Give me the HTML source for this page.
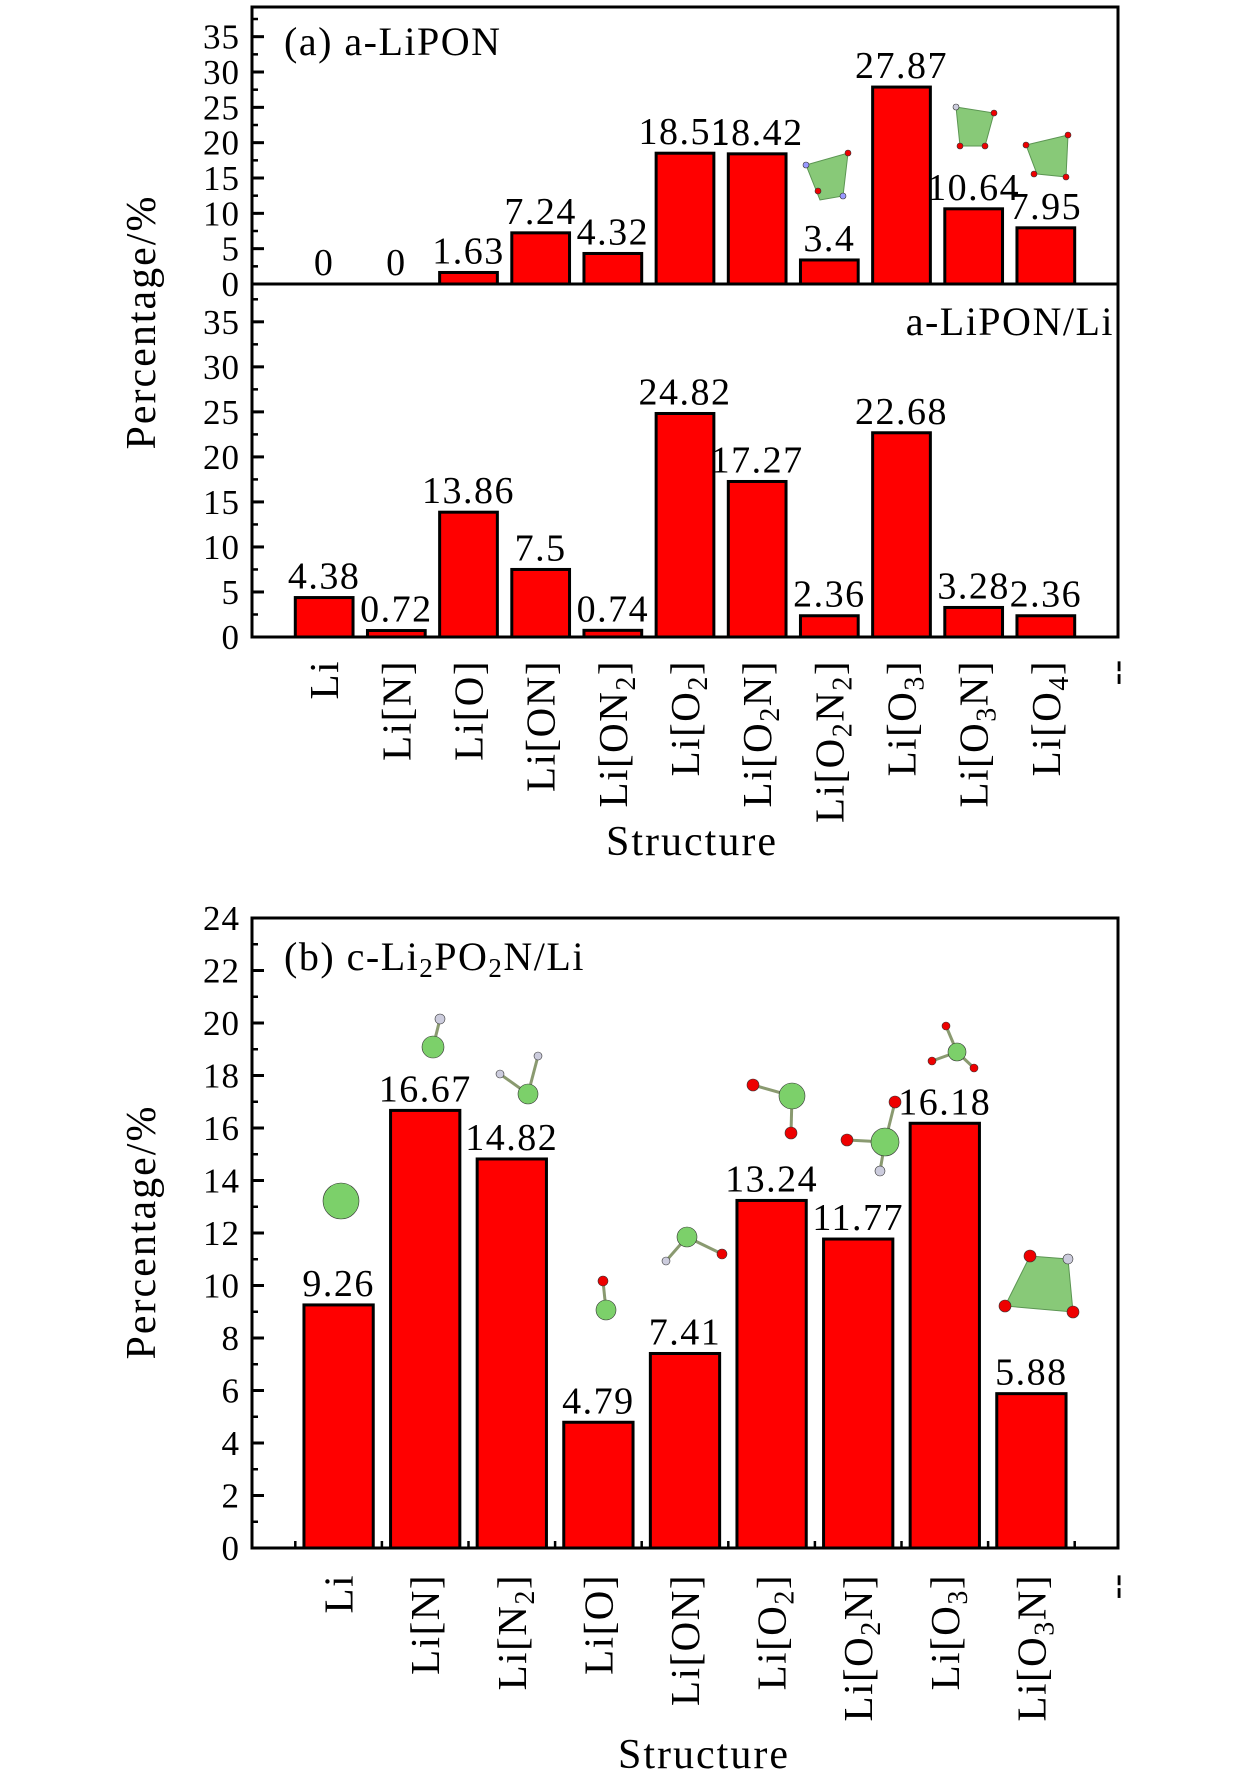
<!DOCTYPE html>
<html><head><meta charset="utf-8">
<style>
html,body{margin:0;padding:0;background:#fff;}
svg{display:block;font-family:"Liberation Serif","DejaVu Serif",serif;}
</style></head>
<body>
<svg id="fig" width="1260" height="1780" viewBox="0 0 1260 1780" xmlns="http://www.w3.org/2000/svg">
<g id="insets"></g>
</svg>
<script>
// ---- data ----
const catsA = [["Li"],["Li[N]"],["Li[O]"],["Li[ON]"],["Li[ON","2","]"],["Li[O","2","]"],["Li[O","2","N]"],["Li[O","2","N","2","]"],["Li[O","3","]"],["Li[O","3","N]"],["Li[O","4","]"]];
const valsA1 = [0,0,1.63,7.24,4.32,18.51,18.42,3.4,27.87,10.64,7.95];
const labsA1 = ["0","0","1.63","7.24","4.32","18.51","18.42","3.4","27.87","10.64","7.95"];
const valsA2 = [4.38,0.72,13.86,7.5,0.74,24.82,17.27,2.36,22.68,3.28,2.36];
const labsA2 = ["4.38","0.72","13.86","7.5","0.74","24.82","17.27","2.36","22.68","3.28","2.36"];
const ticksA = [0,5,10,15,20,25,30,35];
const catsB = [["Li"],["Li[N]"],["Li[N","2","]"],["Li[O]"],["Li[ON]"],["Li[O","2","]"],["Li[O","2","N]"],["Li[O","3","]"],["Li[O","3","N]"]];
const valsB = [9.26,16.67,14.82,4.79,7.41,13.24,11.77,16.18,5.88];
const labsB = ["9.26","16.67","14.82","4.79","7.41","13.24","11.77","16.18","5.88"];
const ticksB = [0,2,4,6,8,10,12,14,16,18,20,22,24];

const NS="http://www.w3.org/2000/svg";
const svg=document.getElementById('fig');
function mk(tag,attrs,parent){const e=document.createElementNS(NS,tag);for(const k in attrs)e.setAttribute(k,attrs[k]);(parent||svg).appendChild(e);return e;}

const L=252,R=1118;
function panel(top,bottom,ymax,vals,labs,ticks,minorStep,name,nslots,drawMinorX){
  const g=mk('g',{});
  
  
  const y=v=>bottom-(v/ymax)*(bottom-top);
  const pitch=(R-L)/nslots;
  const x=i=>L+pitch*(i+1);
  for(let v=0;v<=ymax+1e-9;v+=minorStep){
    const t=mk('line',{x1:L,x2:L+6,y1:y(v),y2:y(v),stroke:'#000','stroke-width':2.5},g);
    
    
  }
  ticks.forEach(v=>{
    const t=mk('line',{x1:L,x2:L+12,y1:y(v),y2:y(v),stroke:'#000','stroke-width':3},g);
    
    
    const tx=mk('text',{x:L-12,y:y(v)+12,'text-anchor':'end','font-size':35,'letter-spacing':1},g);
    tx.textContent=v;
    
    
  });
  if(drawMinorX){
    for(let i=0;i<nslots;i++){
      const t=mk('line',{x1:x(i),x2:x(i),y1:bottom,y2:bottom-12,stroke:'#000','stroke-width':3},g);
      
      
      const m=mk('line',{x1:x(i)-pitch/2,x2:x(i)-pitch/2,y1:bottom,y2:bottom-7,stroke:'#000','stroke-width':2.5},g);
      
      
    }
  }
  vals.forEach((v,i)=>{
    const bw=pitch*0.8;
    if(v>0){
      const b=mk('rect',{x:x(i)-bw/2,y:y(v),width:bw,height:bottom-y(v),fill:'#ff0000',stroke:'#000','stroke-width':3},g);
      
      
    }
    const t=mk('text',{x:x(i),y:y(v)-9,'text-anchor':'middle','font-size':38,'letter-spacing':1.5},g);
    t.textContent=labs[i];
    
    
  });
  return {x,y,pitch};
}
function catLabels(cats,xf,ytop,name){
  cats.forEach((c,i)=>{
    const cx=xf(i)+14;
    const t=mk('text',{transform:`translate(${cx},${ytop}) rotate(-90)`,'text-anchor':'end','font-size':41,'letter-spacing':1.5});
    
    
    c.forEach((s,k)=>{
      const sp=mk('tspan',{},t);
      if(k%2===1){sp.setAttribute('font-size','28');sp.setAttribute('dy','8');}
      else if(k>0){sp.setAttribute('dy','-8');}
      sp.textContent=s;
    });
  });
  const d=mk('text',{transform:`translate(${R+10},${ytop}) rotate(-90)`,'text-anchor':'end','font-size':38});
  d.textContent='--';
  
  
}

// Panel (a)
const top1=7,div1=284,bot1=637;
const pA1=panel(top1,div1,39.2,valsA1,labsA1,ticksA,2.5,'panel-a-lipon',12,false);
const pA2=panel(div1,bot1,39.2,valsA2,labsA2,ticksA,2.5,'panel-a-lipon-li',12,false);
let fr=mk('rect',{x:L,y:top1,width:R-L,height:bot1-top1,fill:'none',stroke:'#000','stroke-width':3});


let dl=mk('line',{x1:L,x2:R,y1:div1,y2:div1,stroke:'#000','stroke-width':3});


catLabels(catsA,pA2.x,660,'x-category-label');
let t=mk('text',{x:284,y:55,'font-size':40,'letter-spacing':1.5});t.textContent='(a) a-LiPON';

t=mk('text',{x:1114,y:335,'font-size':40,'text-anchor':'end','letter-spacing':1.5});t.textContent='a-LiPON/Li';

t=mk('text',{transform:'translate(155,322) rotate(-90)','text-anchor':'middle','font-size':42,'letter-spacing':2});t.textContent='Percentage/%';

t=mk('text',{x:692,y:855,'text-anchor':'middle','font-size':42,'letter-spacing':2});t.textContent='Structure';


// Panel (b)
const top2=918,bot2=1548;
const pB=panel(top2,bot2,24,valsB,labsB,ticksB,1,'panel-b',10,true);
fr=mk('rect',{x:L,y:top2,width:R-L,height:bot2-top2,fill:'none',stroke:'#000','stroke-width':3});


catLabels(catsB,pB.x,1574,'x-category-label');
t=mk('text',{x:284,y:970,'font-size':40,'letter-spacing':1.5});

t.innerHTML='(b) c-Li<tspan font-size="27" dy="7">2</tspan><tspan dy="-7">PO</tspan><tspan font-size="27" dy="7">2</tspan><tspan dy="-7">N/Li</tspan>';
t=mk('text',{transform:'translate(155,1232) rotate(-90)','text-anchor':'middle','font-size':42,'letter-spacing':2});t.textContent='Percentage/%';

t=mk('text',{x:704,y:1768,'text-anchor':'middle','font-size':42,'letter-spacing':2});t.textContent='Structure';


// insets (decorative molecules)
const ins=document.getElementById('insets');
svg.appendChild(ins);
function bond(x1,y1,x2,y2){mk('line',{x1,y1,x2,y2,stroke:'#8a9a70','stroke-width':3},ins);}
function ball(cx,cy,r,c){mk('circle',{cx,cy,r,fill:c,stroke:'#333','stroke-width':0.6},ins);}
function poly(pts){mk('polygon',{points:pts,fill:'#7cc46a',stroke:'#4a8a40','stroke-width':1,opacity:0.9},ins);}
poly('806,165 848,153 843,196 820,200');ball(806,165,3,'#99f');ball(848,153,3,'#e00');ball(818,191,3,'#e00');ball(843,196,3,'#99f');
poly('956,107 994,113 985,146 960,146');ball(956,107,3,'#ccd');ball(994,113,3,'#e00');ball(960,146,3,'#e00');ball(985,146,3,'#e00');
poly('1026,145 1068,135 1066,177 1037,174');ball(1026,145,3,'#e00');ball(1068,135,3,'#e00');ball(1034,174,3,'#e00');ball(1066,177,3,'#e00');
ball(341,1201,18,'#7cd06a');
bond(433,1047,440,1019);ball(433,1047,11,'#7cd06a');ball(440,1019,5,'#ccd');
bond(528,1094,500,1074);bond(528,1094,538,1056);ball(528,1094,10,'#7cd06a');ball(500,1074,4,'#ccd');ball(538,1056,4,'#ccd');
bond(606,1310,603,1281);ball(606,1310,10,'#7cd06a');ball(603,1281,5,'#e00');
bond(687,1237,666,1261);bond(687,1237,722,1254);ball(687,1237,10,'#7cd06a');ball(666,1261,4,'#ccd');ball(722,1254,5,'#e00');
bond(792,1096,753,1085);bond(792,1096,791,1133);ball(792,1096,13,'#7cd06a');ball(753,1085,6,'#e00');ball(791,1133,6,'#e00');
bond(885,1142,847,1140);bond(885,1142,895,1102);bond(885,1142,880,1171);ball(885,1142,14,'#7cd06a');ball(847,1140,6,'#e00');ball(895,1102,6,'#e00');ball(880,1171,5,'#ccd');
bond(957,1052,946,1026);bond(957,1052,932,1061);bond(957,1052,974,1068);ball(957,1052,9,'#7cd06a');ball(946,1026,4,'#e00');ball(932,1061,4,'#e00');ball(974,1068,4,'#e00');
poly('1005,1306 1030,1256 1068,1259 1073,1312');ball(1030,1256,6,'#e00');ball(1068,1259,5,'#ccd');ball(1005,1306,6,'#e00');ball(1073,1312,6,'#e00');
</script>
</body></html>
